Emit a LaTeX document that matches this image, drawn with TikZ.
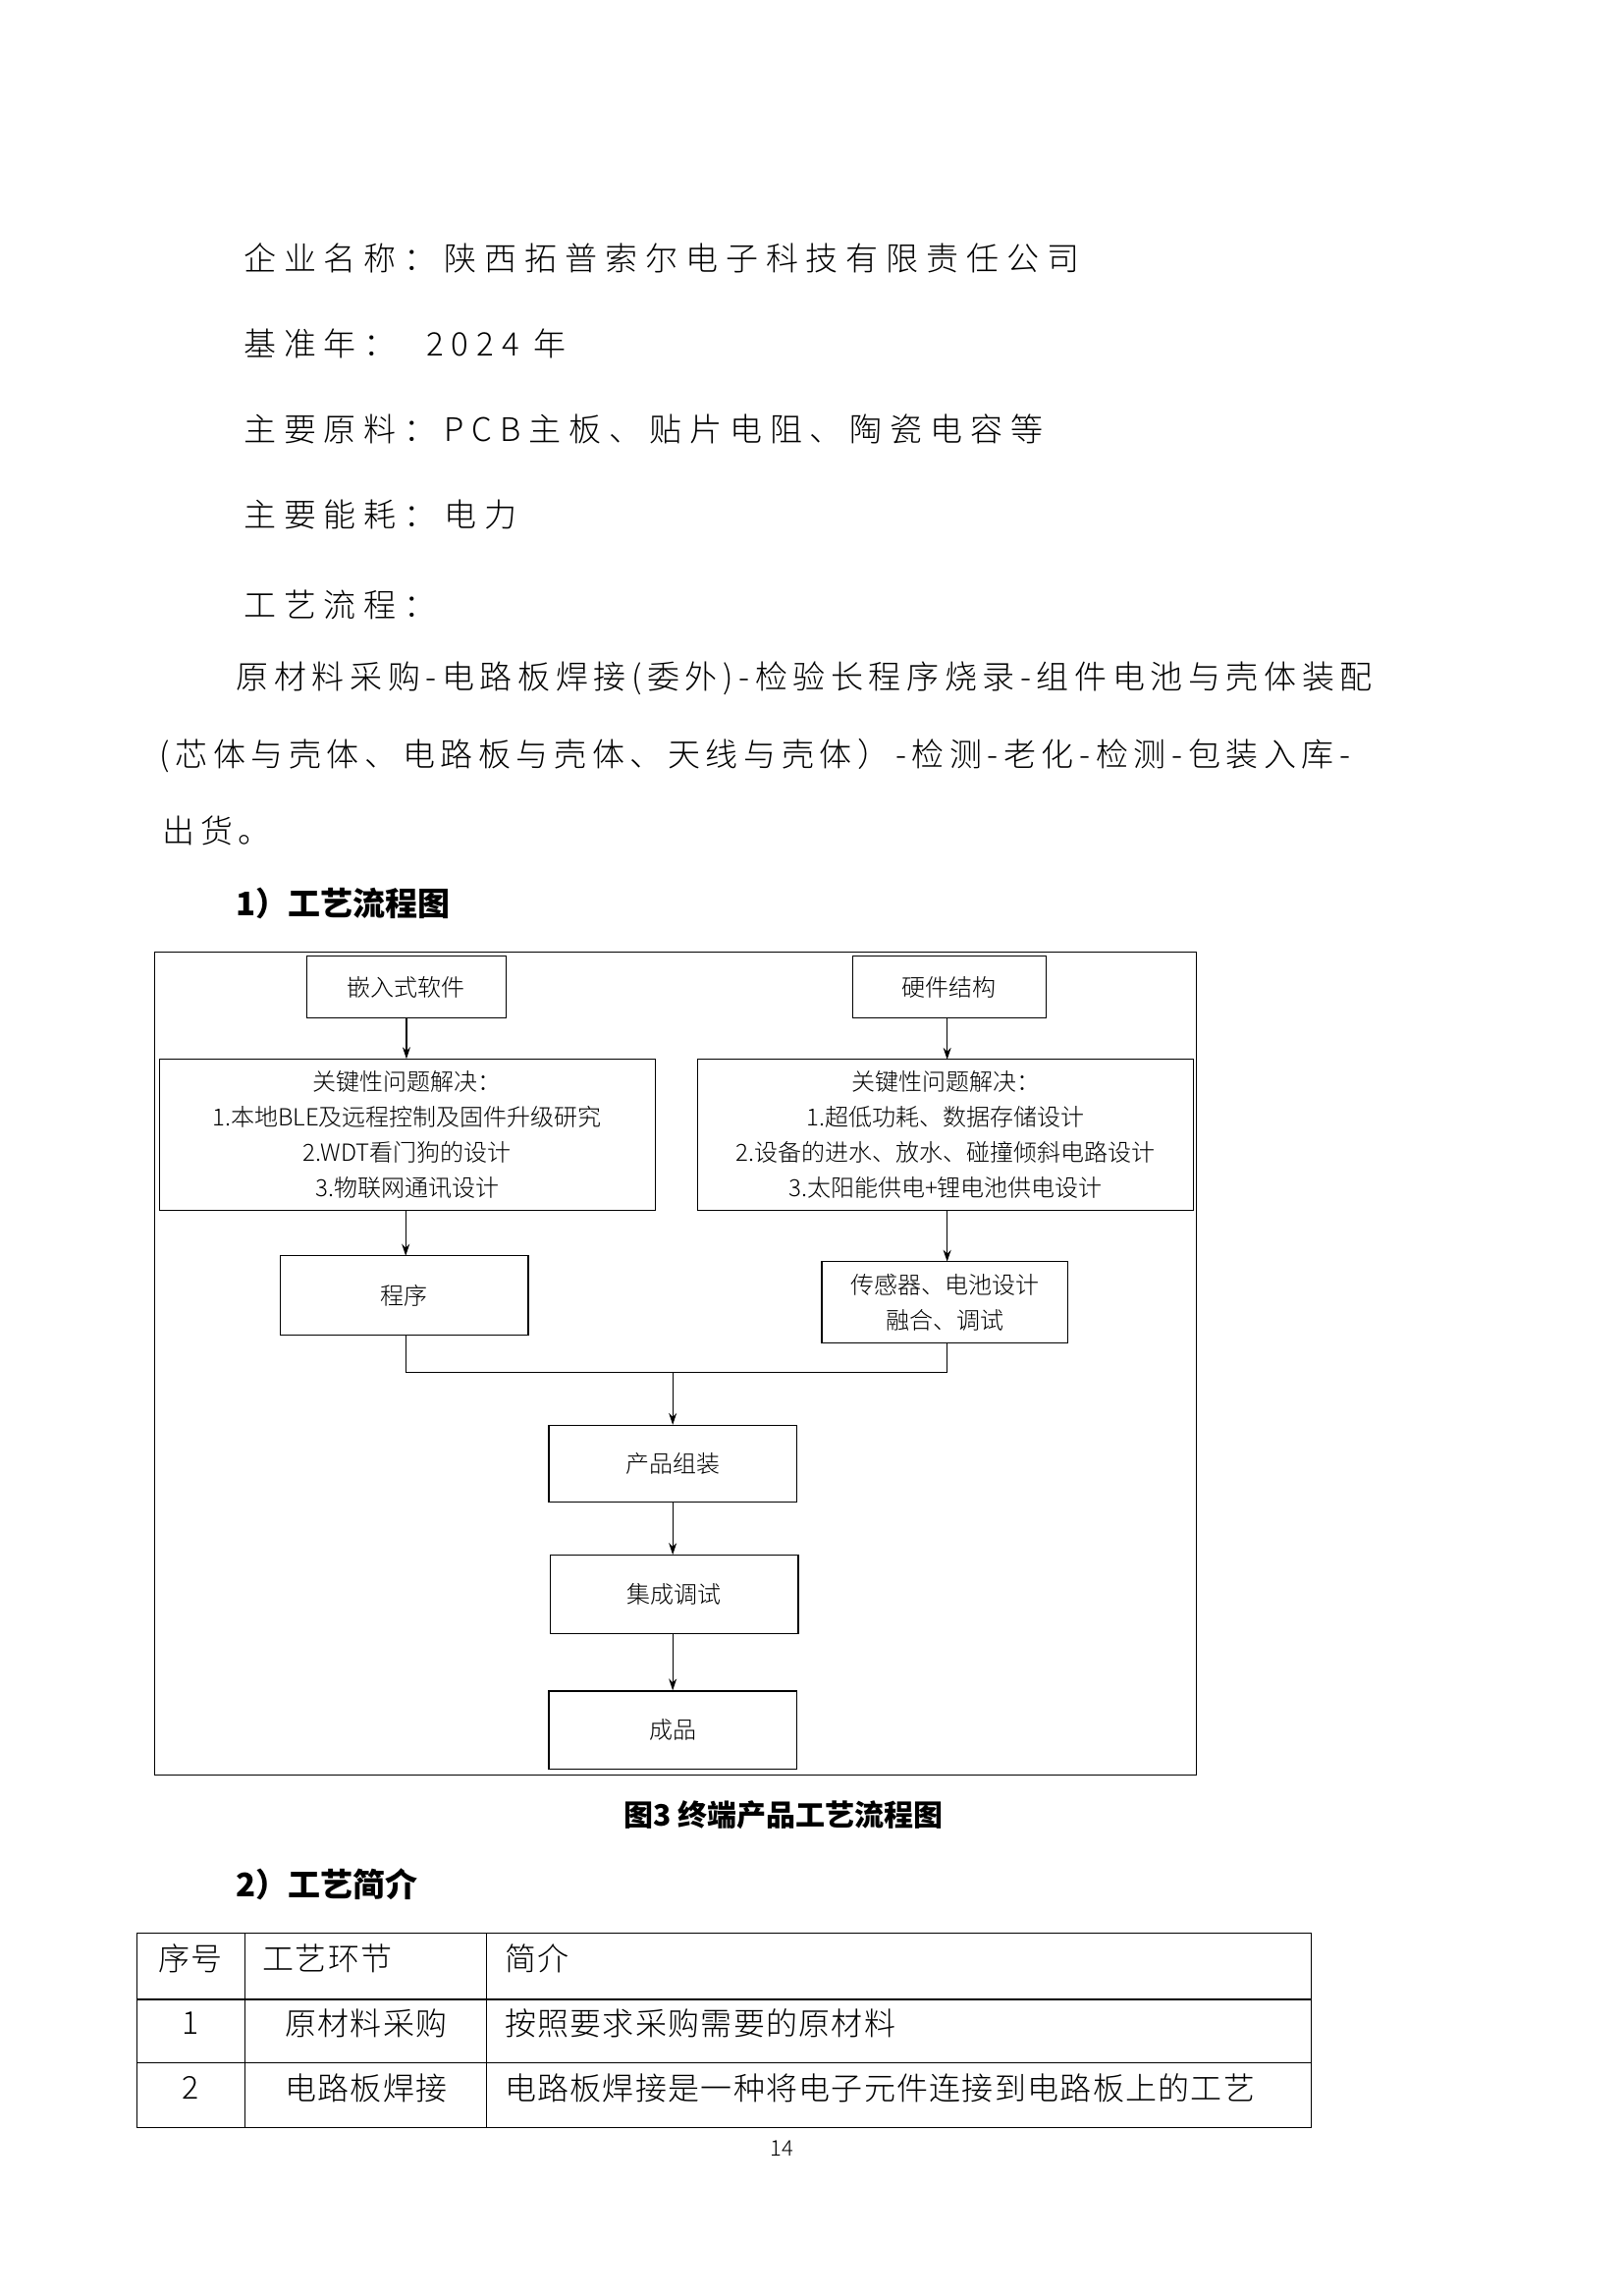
\documentclass[tikz,border=0pt]{standalone}
\usepackage{fontspec}
\setmainfont{Noto Sans CJK SC}
\newfontfamily\cjk{Noto Sans CJK SC}
\newfontfamily\cjkl[LetterSpace=24]{Noto Sans CJK SC Light}
\newfontfamily\cjkm[LetterSpace=17]{Noto Sans CJK SC Light}
\newfontfamily\cjkt[LetterSpace=4]{Noto Sans CJK SC Light}
\newfontfamily\cjkd{Noto Sans CJK SC Light}
\usetikzlibrary{arrows.meta}
\begin{document}
\begin{tikzpicture}[x=1.5027pt,y=-1.5027pt,
 body/.style={anchor=west,inner sep=0pt,font=\fontsize{33}{36}\cjkl},
 bodyn/.style={anchor=west,inner sep=0pt,font=\fontsize{33}{36}\cjkm},
 head/.style={anchor=west,inner sep=0pt,font=\fontsize{33}{36}\cjk\bfseries},
 box/.style={draw,line width=1.2pt,inner sep=0pt},
 dtext/.style={inner sep=0pt,font=\fontsize{24}{36}\cjkd,align=center},
 arr/.style={line width=1.2pt,-{Stealth[length=12pt,width=8pt]}},
 tline/.style={line width=1.2pt},
 ttext/.style={inner sep=0pt,font=\fontsize{32}{36}\cjkt}]
\useasboundingbox (0,0) rectangle (1100,1556);
\fill[white] (0,0) rectangle (1100,1556);
\node[body] (t1) at (165,175) {企业名称：陕西拓普索尔电子科技有限责任公司};
\node[body] (t2) at (165,233) {基准年：\ \ 2024 年};
\node[body] (t3) at (165,291) {主要原料：PCB主板、贴片电阻、陶瓷电容等};
\node[body] (t4) at (165,349) {主要能耗：电力};
\node[body] (t5) at (165,410) {工艺流程：};
\node[bodyn] (t6) at (160,460) {原材料采购-电路板焊接(委外)-检验长程序烧录-组件电池与壳体装配};
\node[bodyn] (t7) at (108,512) {(芯体与壳体、电路板与壳体、天线与壳体）-检测-老化-检测-包装入库-};
\node[bodyn] (t8) at (110,563) {出货。};
\node[head] (h1) at (160,612) {1）工艺流程图};
% frame
\draw[line width=1.2pt] (105,645) rectangle (811,1203);
\node[box,minimum width=135*1.5027pt,minimum height=42*1.5027pt] (a1) at (275.5,669) {};
\node[dtext] at (a1) {嵌入式软件};
\node[box,minimum width=131*1.5027pt,minimum height=42*1.5027pt] (b1) at (643.5,669) {};
\node[dtext] at (b1) {硬件结构};
\node[box,minimum width=336*1.5027pt,minimum height=102*1.5027pt] (a2) at (276,769) {};
\node[dtext] at (a2) {关键性问题解决：\\1.本地BLE及远程控制及固件升级研究\\2.WDT看门狗的设计\\3.物联网通讯设计};
\node[box,minimum width=336*1.5027pt,minimum height=102*1.5027pt] (b2) at (641,769) {};
\node[dtext] at (b2) {关键性问题解决：\\1.超低功耗、数据存储设计\\2.设备的进水、放水、碰撞倾斜电路设计\\3.太阳能供电+锂电池供电设计};
\node[box,minimum width=168*1.5027pt,minimum height=54*1.5027pt] (a3) at (274,878) {};
\node[dtext] at (a3) {程序};
\node[box,minimum width=167*1.5027pt,minimum height=55*1.5027pt] (b3) at (640.5,882.5) {};
\node[dtext] at (b3) {传感器、电池设计\\融合、调试};
\node[box,minimum width=168*1.5027pt,minimum height=52*1.5027pt] (c1) at (456,992) {};
\node[dtext] at (c1) {产品组装};
\node[box,minimum width=168*1.5027pt,minimum height=53*1.5027pt] (c2) at (457,1080.5) {};
\node[dtext] at (c2) {集成调试};
\node[box,minimum width=168*1.5027pt,minimum height=53*1.5027pt] (c3) at (456,1172.5) {};
\node[dtext] at (c3) {成品};
\draw[arr] (a1.south) -- (a2.north-|a1.south);
\draw[arr] (b1.south-|642,0) -- (642,718);
\draw[arr] (275,820) -- (275,851);
\draw[arr] (642,820) -- (642,855);
\coordinate (m) at (456,930);
\draw[tline] (275,905) -- (275,930) -- (642,930) -- (642,910);
\draw[arr] (m) -- (c1.north);
\draw[arr] (c1.south) -- (c2.north-|c1.south);
\draw[arr] (c2.south-|c1.south) -- (c3.north);
\node[inner sep=0pt,font=\fontsize{30}{36}\cjk\bfseries] (cap) at (531,1230) {图3 终端产品工艺流程图};
\node[head] (h2) at (160,1277) {2）工艺简介};
% table
\draw[tline] (93,1310) rectangle (889,1442);
\draw[tline] (93,1355) -- (889,1355) (93,1398) -- (889,1398);
\draw[tline] (166,1310) -- (166,1442) (330,1310) -- (330,1442);
\node[ttext] at (129,1327) {序号};
\node[ttext,anchor=west] at (178,1327) {工艺环节};
\node[ttext,anchor=west] at (342,1327) {简介};
\node[ttext] at (129,1371) {1};
\node[ttext,anchor=west] at (193,1371) {原材料采购};
\node[ttext,anchor=west] at (342,1371) {按照要求采购需要的原材料};
\node[ttext] at (129,1415) {2};
\node[ttext,anchor=west] at (193,1415) {电路板焊接};
\node[ttext,anchor=west] at (342,1415) {电路板焊接是一种将电子元件连接到电路板上的工艺};
\node[inner sep=0pt,font=\fontsize{22}{26}\cjkd] (pn) at (530,1456) {14};
\end{tikzpicture}
\end{document}
